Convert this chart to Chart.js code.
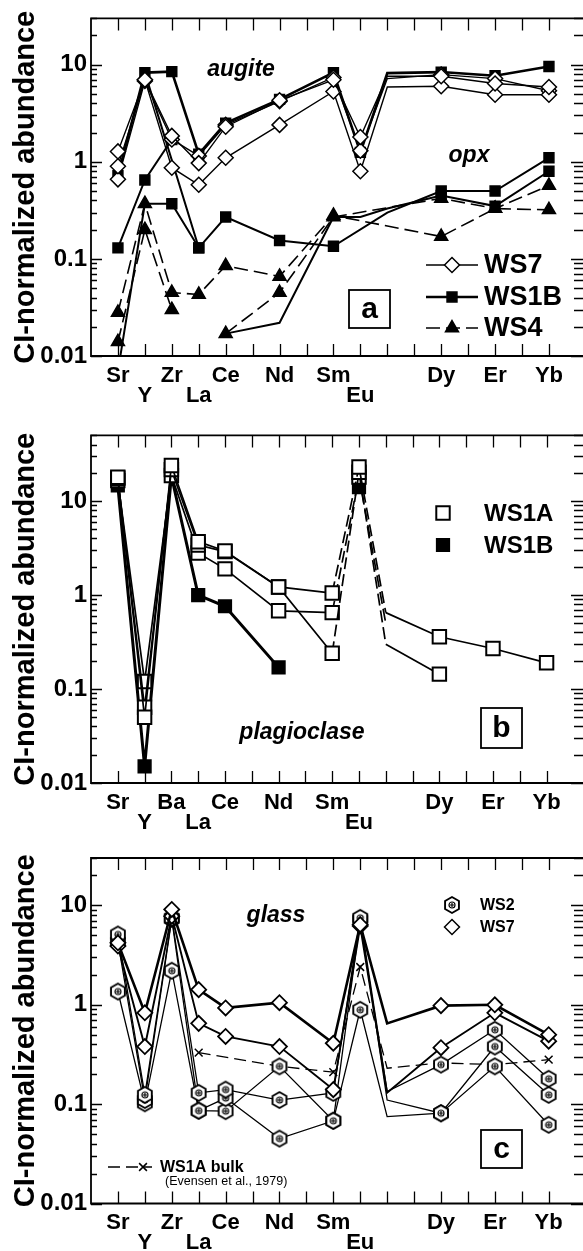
<!DOCTYPE html>
<html>
<head>
<meta charset="utf-8">
<script src="https://cdn.jsdelivr.net/npm/chart.js@4.4.1/dist/chart.umd.min.js"></script>
<style>
  html, body { margin: 0; padding: 0; background: #fff; overflow: hidden; }
  .panel { position: absolute; left: 0; }
</style>
</head>
<body>
<canvas id="chartA" class="panel" style="top:0" width="583" height="417"></canvas>
<canvas id="chartB" class="panel" style="top:417px" width="583" height="417"></canvas>
<canvas id="chartC" class="panel" style="top:834px" width="583" height="417"></canvas>
<script>
// slots along the x axis (one per element, empty ones have no data)
const elementsAC = ['Sr', 'Y', 'Zr', 'La', 'Ce', 'Pr', 'Nd', 'Pm', 'Sm', 'Eu', 'Gd', 'Tb', 'Dy', 'Ho', 'Er', 'Tm', 'Yb'];
const elementsB = ['Sr', 'Y', 'Ba', 'La', 'Ce', 'Pr', 'Nd', 'Pm', 'Sm', 'Eu', 'Gd', 'Tb', 'Dy', 'Ho', 'Er', 'Tm', 'Yb'];
const shownLabels = ['Sr', 'Y', 'Zr', 'Ba', 'La', 'Ce', 'Nd', 'Sm', 'Eu', 'Dy', 'Er', 'Yb'];
const lowerRow = ['Y', 'La', 'Eu'];
const decadeLabels = [0.01, 0.1, 1, 10];

// panel a - augite
const augWS7a = [1.28, 7.0, 1.85, 0.97, 2.3, null, 4.3, null, 7.0, 1.8, 7.6, null, 7.6, null, 6.4, null, 5.9];
const augWS7b = [0.9, 7.0, 0.87, 0.58, 1.1, null, 2.4, null, 5.3, 0.8, 5.9, null, 6.0, null, 4.9, null, 4.9];
const augWS7c = [0.66, 6.8, 1.7, 1.15, 2.4, null, 4.2, null, 7.4, 1.3, 7.2, null, 7.9, null, 7.2, null, 5.4];
const augWS1B = [0.72, 8.3, 8.5, 1.2, 2.5, null, 4.4, null, 8.3, 1.25, 8.2, null, 8.4, null, 7.7, null, 9.6];
// panel a - opx
const opxWS1Ba = [0.13, 0.65, 1.7];
const opxWS1Bb = [null, 8.3, null, 0.13, 0.27, null, 0.155, null, 0.135, null, 0.3, null, 0.5, null, 0.5, null, 1.1];
const opxWS1Bc = [0.007, 0.37, 0.37, 0.13];
const opxWS1Bd = [null, null, null, null, 0.017, null, 0.022, null, 0.27, 0.27, 0.33, null, 0.45, null, 0.35, null, 0.8];
const opxWS4a = [0.028, 0.37, 0.045, 0.043, 0.085, null, 0.066, null, 0.28, null, null, null, 0.17, null, 0.33, null, 0.32];
const opxWS4b = [0.014, 0.2, 0.03];
const opxWS4c = [null, null, null, null, 0.017, null, 0.045, null, 0.27, null, null, null, 0.42, null, 0.33, null, 0.57];

// panel b - plagioclase
const plgWS1Aa = [17.9, 0.05, 23.9, 3.7, 2.95, null, 1.22, null, 1.05, 23, 0.65, null, 0.36, null, 0.27, null, 0.19];
const plgWS1Ab = [17.5, 0.064, 21.6, 3.4, 2.9, null, 1.22, null, 0.24, 20.3, 0.3, null, 0.144];
const plgWS1Ac = [16.5, 0.12, 18.7, 2.8, 1.9, null, 0.68, null, 0.65, 18, 0.5];
const plgWS1B = [14.7, 0.015, 18.5, 1.0, 0.76, null, 0.17];
const plgWS1BEu = [null, null, null, null, null, null, null, null, null, 14.1];

// panel c - glass
const glsWS7a = [4.2, 0.83, 9.1, 1.42, 0.93, null, 1.05, null, 0.41, 6.4, 0.65, null, 0.98, null, 1.0, null, 0.5];
const glsWS7b = [3.9, 0.38, 7.8, 0.65, 0.48, null, 0.38, null, 0.14, 6.2, 0.13, null, 0.37, null, 0.83, null, 0.43];
const glsWS2a = [5.1, 0.124, 7.5, 0.13, 0.14, null, 0.11, null, 0.13, 7.5, 0.134, null, 0.25, null, 0.56, null, 0.18];
const glsWS2b = [4.3, 0.11, 7.3, 0.086, 0.115, null, 0.045, null, 0.068, 7.2, 0.11, null, 0.081, null, 0.38, null, 0.124];
const glsWS2c = [1.36, 0.102, 2.2, 0.086, 0.085, null, 0.24, null, 0.068, 0.89, 0.075, null, 0.081, null, 0.24, null, 0.062];
const bulkWS1A = [null, null, null, 0.33, null, null, 0.24, null, 0.21, 2.4, 0.23, null, 0.26, null, 0.25, null, 0.28];

const FONT = '"Liberation Sans", Arial, sans-serif';
const GD = 10;
const EU = 9;

// hexagon with a small circled plus, used for WS2
function makeHexagon() {
    const c = document.createElement('canvas');
    c.width = 18; c.height = 20;
    const g = c.getContext('2d');
    const cx = 9, cy = 10, r = 8;
    g.beginPath();
    for (let k = 0; k < 6; k++) {
        const a = Math.PI / 2 + k * Math.PI / 3;
        const px = cx + r * Math.cos(a), py = cy - r * Math.sin(a);
        if (k) g.lineTo(px, py); else g.moveTo(px, py);
    }
    g.closePath();
    g.fillStyle = '#fff';
    g.fill();
    g.strokeStyle = '#000';
    g.lineWidth = 1.9;
    g.stroke();
    g.lineWidth = 1.2;
    g.beginPath();
    g.arc(cx, cy, 3, 0, Math.PI * 2);
    g.stroke();
    g.beginPath();
    g.moveTo(cx - 2, cy); g.lineTo(cx + 2, cy);
    g.moveTo(cx, cy - 2); g.lineTo(cx, cy + 2);
    g.stroke();
    return c;
}
const hexagon = makeHexagon();

const looks = {
    ws7: { width: 1.4, marker: 'rectRot', size: 7.5, fill: '#fff' },
    ws7Thick: { width: 2.6, marker: 'rectRot', size: 7.5, fill: '#fff', markerWidth: 1.8 },
    ws7Mid: { width: 1.9, marker: 'rectRot', size: 7.5, fill: '#fff', markerWidth: 1.8 },
    ws1bThick: { width: 2.6, marker: 'rect', size: 7, fill: '#000' },
    ws1bOpx: { width: 2, marker: 'rect', size: 7, fill: '#000' },
    ws4: { width: 1.6, marker: 'triangle', size: 7.5, fill: '#000', dash: [14, 6] },
    ws1aPlg: { width: 1.7, marker: 'rect', size: 9.5, fill: '#fff', markerWidth: 2, dashNearEu: true },
    ws1bPlg: { width: 3, marker: 'rect', size: 9, fill: '#000' },
    ws2: { width: 1.3, marker: hexagon, size: 7, fill: '#fff' },
    bulk: { width: 1.3, marker: 'crossRot', size: 5.5, fill: '#000', dash: [12, 6] }
};

function series(values, look, hide = [GD]) {
    return {
        data: values.map((v, i) => ({ x: i, y: v })),
        borderColor: '#000',
        borderWidth: look.width,
        borderDash: look.dash || [],
        pointStyle: look.marker,
        pointRadius: ctx => hide.includes(ctx.dataIndex) ? 0 : look.size,
        pointBackgroundColor: look.fill,
        pointBorderColor: '#000',
        pointBorderWidth: look.markerWidth || 1.5,
        spanGaps: true,
        segment: look.dashNearEu ? {
            borderDash: ctx => (ctx.p0DataIndex >= EU - 1 && ctx.p0DataIndex <= GD) ? [12, 5] : undefined
        } : undefined
    };
}

// frame (right edge falls just outside the picture), inward ticks, labels, legends
const framePlugin = {
    id: 'frame',
    afterDatasetsDraw(chart, args, opts) {
        const { ctx, chartArea: a, scales: { x, y } } = chart;
        const right = chart.width;
        ctx.save();
        ctx.strokeStyle = '#000';
        ctx.fillStyle = '#000';
        ctx.lineWidth = 1.8;
        ctx.beginPath();
        ctx.moveTo(right + 2, a.top);
        ctx.lineTo(a.left, a.top);
        ctx.lineTo(a.left, a.bottom);
        ctx.lineTo(right + 2, a.bottom);
        ctx.stroke();

        ctx.lineWidth = 1.3;
        ctx.beginPath();
        x.ticks.forEach(t => {
            if (t.value < 0 || t.value > 16) return;
            const px = Math.round(x.getPixelForValue(t.value)) + 0.5;
            ctx.moveTo(px, a.top); ctx.lineTo(px, a.top + 12);
            ctx.moveTo(px, a.bottom); ctx.lineTo(px, a.bottom - 12);
        });
        for (let e = -2; e <= 1; e++) {
            for (let m = 1; m <= 9; m++) {
                const v = m * Math.pow(10, e);
                if (v < y.min * 0.999 || v > y.max * 1.001) continue;
                const py = Math.round(y.getPixelForValue(v)) + 0.5;
                const major = m === 1;
                ctx.moveTo(a.left, py); ctx.lineTo(a.left + (major ? 11 : 6), py);
                ctx.moveTo(right, py); ctx.lineTo(right - (major ? 12 : 9), py);
            }
        }
        ctx.stroke();

        ctx.textBaseline = 'middle';
        (opts.notes || []).forEach(n => {
            ctx.font = n.font;
            ctx.textAlign = n.align || 'center';
            ctx.fillText(n.text, n.x, n.y);
        });

        if (opts.box) {
            const b = opts.box;
            ctx.lineWidth = 1.8;
            ctx.strokeRect(b.x, b.y, b.w, b.h);
            ctx.font = 'bold 30px ' + FONT;
            ctx.textAlign = 'center';
            ctx.fillText(b.text, b.x + b.w / 2, b.y + b.h / 2 + 1);
        }

        (opts.legend || []).forEach(item => {
            const look = item.look;
            if (item.line) {
                ctx.lineWidth = look.width;
                ctx.setLineDash(look.dash || []);
                ctx.beginPath();
                ctx.moveTo(item.line[0], item.y);
                ctx.lineTo(item.line[1], item.y);
                ctx.stroke();
                ctx.setLineDash([]);
            }
            ctx.fillStyle = look.fill;
            ctx.lineWidth = look.markerWidth || 1.5;
            Chart.helpers.drawPoint(ctx, { pointStyle: look.marker, radius: look.size, borderWidth: ctx.lineWidth }, item.mx, item.y);
            ctx.fillStyle = '#000';
            ctx.font = item.font;
            ctx.textAlign = 'left';
            ctx.fillText(item.text, item.tx, item.y + 1);
        });
        ctx.restore();
    }
};

function buildChart(id, elements, datasets, frame, geom) {
    return new Chart(document.getElementById(id), {
        type: 'line',
        data: { datasets },
        plugins: [framePlugin],
        options: {
            responsive: false,
            animation: false,
            events: [],
            layout: { padding: { top: geom.top, right: 0, left: 0, bottom: 0 } },
            plugins: { legend: { display: false }, tooltip: { enabled: false }, frame },
            scales: {
                x: {
                    type: 'linear',
                    min: -1,
                    max: 16.93,
                    grid: { display: false, drawTicks: false },
                    border: { display: false },
                    afterFit: s => { s.height = geom.xHeight; },
                    afterBuildTicks: s => { s.ticks = elements.map((e, i) => ({ value: i })); },
                    ticks: {
                        autoSkip: false,
                        maxRotation: 0,
                        padding: 10,
                        color: '#000',
                        font: { family: FONT, size: 22, weight: 'bold', lineHeight: 0.9 },
                        callback: v => {
                            const name = elements[v];
                            if (!name || !shownLabels.includes(name)) return '';
                            return lowerRow.includes(name) ? ['', name] : name;
                        }
                    }
                },
                y: {
                    type: 'logarithmic',
                    min: 0.01,
                    max: geom.max,
                    grid: { display: false, drawTicks: false },
                    border: { display: false },
                    afterFit: s => { s.width = 91; },
                    afterBuildTicks: s => { s.ticks = decadeLabels.map(v => ({ value: v })); },
                    ticks: {
                        padding: 4,
                        color: '#000',
                        font: { family: FONT, size: 24, weight: 'bold' },
                        callback: v => String(v)
                    },
                    title: {
                        display: true,
                        text: 'CI-normalized abundance',
                        color: '#000',
                        padding: { top: 9, bottom: 0 },
                        font: { family: FONT, size: 29, weight: 'bold' }
                    }
                }
            }
        }
    });
}

const legendFontA = 'bold 27px ' + FONT;
const noteFont = 'italic bold 23px ' + FONT;

buildChart('chartA', elementsAC, [
    series(augWS7a, looks.ws7),
    series(augWS7b, looks.ws7),
    series(augWS7c, looks.ws7),
    series(augWS1B, looks.ws1bThick),
    series(opxWS1Ba, looks.ws1bOpx),
    series(opxWS1Bb, looks.ws1bOpx, [1, GD]),
    series(opxWS1Bc, looks.ws1bOpx, [0, 1]),
    series(opxWS1Bd, looks.ws1bOpx, [4, 6, 8, 9, GD]),
    series(opxWS4a, looks.ws4),
    series(opxWS4b, looks.ws4),
    series(opxWS4c, looks.ws4)
], {
    notes: [
        { text: 'augite', x: 241, y: 70, font: noteFont },
        { text: 'opx', x: 469, y: 156, font: noteFont }
    ],
    box: { x: 349, y: 290, w: 41, h: 38, text: 'a' },
    legend: [
        { look: looks.ws7, line: [426, 478], mx: 452, tx: 484, y: 265, text: 'WS7', font: legendFontA },
        { look: looks.ws1bThick, line: [426, 478], mx: 452, tx: 484, y: 297, text: 'WS1B', font: legendFontA },
        { look: looks.ws4, line: [426, 478], mx: 452, tx: 484, y: 328, text: 'WS4', font: legendFontA }
    ]
}, { top: 10, xHeight: 61, max: 30 });

const legendFontB = 'bold 24px ' + FONT;
buildChart('chartB', elementsB, [
    series(plgWS1Aa, looks.ws1aPlg),
    series(plgWS1Ab, looks.ws1aPlg),
    series(plgWS1Ac, looks.ws1aPlg),
    series(plgWS1B, looks.ws1bPlg),
    series(plgWS1BEu, looks.ws1bPlg)
], {
    notes: [
        { text: 'plagioclase', x: 302, y: 316, font: noteFont }
    ],
    box: { x: 481, y: 291, w: 41, h: 40, text: 'b' },
    legend: [
        { look: looks.ws1aPlg, mx: 443, tx: 484, y: 96, text: 'WS1A', font: legendFontB },
        { look: looks.ws1bPlg, mx: 443, tx: 484, y: 128, text: 'WS1B', font: legendFontB }
    ]
}, { top: 17, xHeight: 51, max: 50 });

const legendFontC = 'bold 16px ' + FONT;
buildChart('chartC', elementsAC, [
    series(glsWS7a, looks.ws7Thick),
    series(glsWS7b, looks.ws7Mid),
    series(glsWS2a, looks.ws2),
    series(glsWS2b, looks.ws2),
    series(glsWS2c, looks.ws2),
    series(bulkWS1A, looks.bulk)
], {
    notes: [
        { text: 'glass', x: 276, y: 82, font: noteFont },
        { text: '(Evensen et al., 1979)', x: 165, y: 348, font: '12.5px ' + FONT, align: 'left' }
    ],
    box: { x: 481, y: 296, w: 41, h: 38, text: 'c' },
    legend: [
        { look: looks.ws2, mx: 452, tx: 480, y: 71, text: 'WS2', font: legendFontC },
        { look: looks.ws7, mx: 452, tx: 480, y: 93, text: 'WS7', font: legendFontC },
        { look: looks.bulk, line: [108, 152], mx: 143, tx: 160, y: 333, text: 'WS1A bulk', font: legendFontC }
    ]
}, { top: 24, xHeight: 47.5, max: 30 });
</script>
</body>
</html>
